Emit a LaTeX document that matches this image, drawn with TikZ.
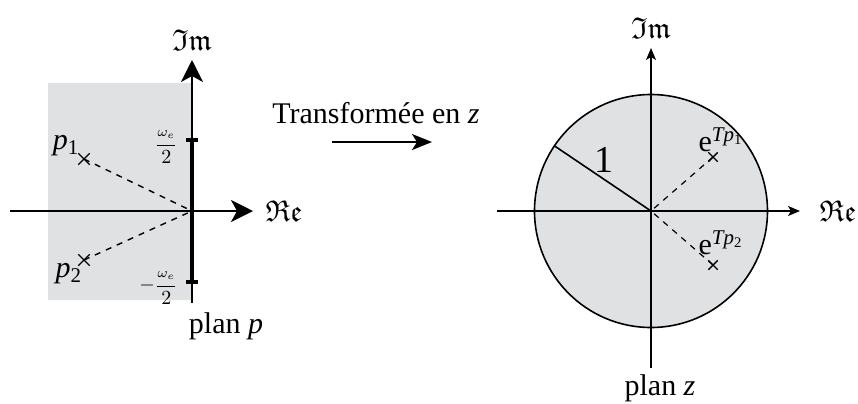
\documentclass[tikz,border=0pt]{standalone}
\usepackage{amsmath,amssymb}
\usepackage{fontspec}
\setmainfont{Liberation Serif}
\usetikzlibrary{arrows.meta,shapes.misc}

\definecolor{zonegris}{RGB}{224,225,227}
\newcommand\expole[1]{e\textsuperscript{\textit{Tp}\textsubscript{#1}}}

\begin{document}
\begin{tikzpicture}[x=0.5pt,y=-0.5pt,font=\fontsize{15}{18}\selectfont,
    bigaxis/.style={-{Stealth[length=11pt,width=11pt,inset=3pt]},line width=1pt},
    smallaxis/.style={-{Stealth[length=6pt,width=5pt,inset=1.5pt]},line width=0.7pt},
    pole/.style={cross out,draw,line width=0.7pt,minimum size=#1,inner sep=0pt},
    fraclabel/.style={font=\fontsize{10}{12}\selectfont,anchor=east,inner sep=1pt}]
  \useasboundingbox (0,0) rectangle (858,403);

  % plan p
  \fill[zonegris] (48,83) rectangle (192,300);
  \coordinate (op) at (192,211);
  \coordinate (rep) at (253,211);
  \coordinate (imp) at (192,60);
  \draw[bigaxis] (10,211) -- (rep);
  \draw[bigaxis] (192,303) -- (imp);
  \draw[line width=2pt] (192,140) -- (192,282);
  \foreach \y in {140,282}
    \draw[line width=2pt] (186,\y) -- (198,\y);
  \node[fraclabel] (wh) at (180,147) {$\dfrac{\scriptstyle\omega_e}{2}$};
  \node[fraclabel] (wb) at (180,288) {$-\dfrac{\scriptstyle\omega_e}{2}$};
  \node[pole=5pt] (p1) at (84,159) {};
  \node[pole=5pt] (p2) at (84,260) {};
  \draw[dashed,line width=0.7pt] (p1.center) -- (op);
  \draw[dashed,line width=0.7pt] (p2.center) -- (op);
  \node (p1l) at (66,146) {\textit{p}\textsubscript{1}};
  \node (p2l) at (69,274) {\textit{p}\textsubscript{2}};
  \node (reP) at (284,211) {$\mathfrak{Re}$};
  \node (imP) at (192,40) {$\mathfrak{Im}$};
  \node (planp) at (226,326) {plan \textit{p}};

  % transformation
  \node (tz) at (376,113) {Transformée en \textit{z}};
  \coordinate (fa) at (332,142);
  \coordinate (fb) at (432,142);
  \draw[-{Stealth[length=10pt,width=8pt,inset=2.5pt]},line width=1pt] (fa) -- (fb);

  % plan z
  \coordinate (oz) at (651,211);
  \fill[zonegris,draw=black,line width=0.8pt] (oz) circle (116.5);
  \coordinate (rez) at (800,211);
  \coordinate (imz) at (651,48);
  \draw[smallaxis] (497,211) -- (rez);
  \draw[smallaxis] (651,368) -- (imz);
  \draw[line width=0.8pt] (oz) -- ++(214:116.5) coordinate (bord);
  \node (un) at (604,160) {\fontsize{19}{22}\selectfont 1};
  \node[pole=4pt] (z1) at (713,157) {};
  \node[pole=4pt] (z2) at (713,265) {};
  \draw[dashed,line width=0.6pt] (z1.center) -- (oz);
  \draw[dashed,line width=0.6pt] (z2.center) -- (oz);
  \node (z1l) at (721,140) {\expole{1}};
  \node (z2l) at (721,243) {\expole{2}};
  \node (reZ) at (838,211) {$\mathfrak{Re}$};
  \node (imZ) at (651,28) {$\mathfrak{Im}$};
  \node (planz) at (660,388) {plan \textit{z}};
\end{tikzpicture}
\end{document}
